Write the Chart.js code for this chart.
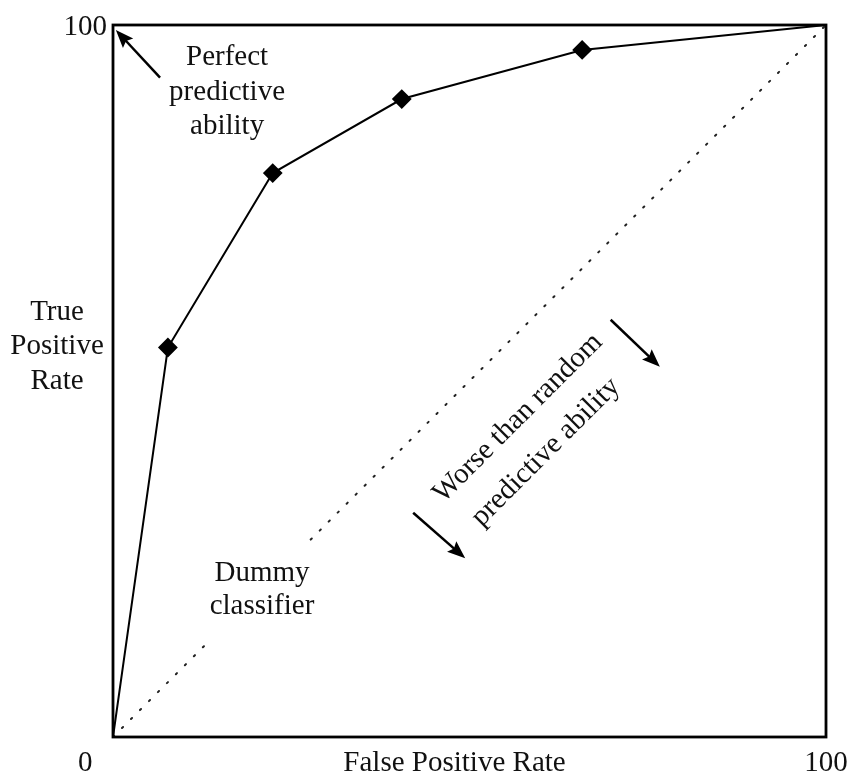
<!DOCTYPE html>
<html>
<head>
<meta charset="utf-8">
<script src="https://cdn.jsdelivr.net/npm/chart.js@4/dist/chart.umd.min.js"></script>
<style>
html,body{margin:0;padding:0;background:#fff;}
#wrap{width:849px;height:776px;}
</style>
</head>
<body>
<div id="wrap"><canvas id="c" width="849" height="776"></canvas></div>
<script>
// Data
const fprValues = [0, 7.7, 22.4, 40.5, 65.8, 100];
const tprValues = [0, 54.7, 79.2, 89.6, 96.5, 100];
const dummyFpr = [0, 100];
const dummyTpr = [0, 100];
const axisTickLabels = ["0", "100"];
const xAxisTitle = "False Positive Rate";
const yAxisTitle = ["True", "Positive", "Rate"];
const perfectLabel = ["Perfect", "predictive", "ability"];
const dummyLabel = ["Dummy", "classifier"];
const worseLabel = ["Worse than random", "predictive ability"];

const FONT = '29px "Liberation Serif", "Times New Roman", serif';

function arrow(ctx, x1, y1, x2, y2) {
  const ang = Math.atan2(y2 - y1, x2 - x1);
  const hl = 18, hw = 7;
  const bx = x2 - hl * Math.cos(ang), by = y2 - hl * Math.sin(ang);
  ctx.beginPath();
  ctx.moveTo(x1, y1);
  ctx.lineTo(bx + 4 * Math.cos(ang), by + 4 * Math.sin(ang));
  ctx.lineWidth = 2.5;
  ctx.strokeStyle = '#000';
  ctx.stroke();
  ctx.beginPath();
  ctx.moveTo(x2, y2);
  ctx.lineTo(bx - hw * Math.sin(ang), by + hw * Math.cos(ang));
  ctx.lineTo(bx + 3 * Math.cos(ang), by + 3 * Math.sin(ang));
  ctx.lineTo(bx + hw * Math.sin(ang), by - hw * Math.cos(ang));
  ctx.closePath();
  ctx.fillStyle = '#000';
  ctx.fill();
}

const annot = {
  id: 'annot',
  afterDatasetsDraw(chart) {
    const ctx = chart.ctx;
    const xs = chart.scales.x, ys = chart.scales.y;
    const X = v => xs.getPixelForValue(v), Y = v => ys.getPixelForValue(v);
    const a = chart.chartArea;
    ctx.save();
    // white box behind dummy label (hides the dotted line there)
    ctx.fillStyle = '#fff';
    ctx.fillRect(X(13.2), Y(26.9), X(28.8) - X(13.2), Y(13.6) - Y(26.9));
    // frame
    ctx.strokeStyle = '#000';
    ctx.lineWidth = 2.8;
    ctx.strokeRect(a.left, a.top, a.right - a.left, a.bottom - a.top);

    ctx.fillStyle = '#111';
    ctx.font = FONT;
    ctx.textAlign = 'center';
    ctx.textBaseline = 'middle';
    // tick labels
    ctx.fillText(axisTickLabels[0], X(-3.9), Y(-3.65));
    ctx.fillText(axisTickLabels[1], X(100), Y(-3.65));
    ctx.fillText(axisTickLabels[1], X(-3.9), Y(99.6));
    // axis titles
    ctx.fillText(xAxisTitle, X(47.9), Y(-3.65));
    const ty = [59.6, 54.8, 50.0];
    yAxisTitle.forEach((t, i) => ctx.fillText(t, X(-7.85), Y(ty[i])));
    // perfect
    const py = [95.5, 90.6, 85.7];
    perfectLabel.forEach((t, i) => ctx.fillText(t, X(16.0), Y(py[i])));
    // dummy
    const dy = [23.0, 18.4];
    dummyLabel.forEach((t, i) => ctx.fillText(t, X(20.9), Y(dy[i])));
    // worse (rotated)
    const wpos = [[56.8, 44.8], [60.7, 40.0]];
    worseLabel.forEach((t, i) => {
      ctx.save();
      ctx.translate(X(wpos[i][0]), Y(wpos[i][1]));
      ctx.rotate(-Math.PI / 4);
      ctx.fillText(t, 0, 0);
      ctx.restore();
    });
    // arrows
    arrow(ctx, X(6.6), Y(92.6), X(0.4), Y(99.3));
    arrow(ctx, X(69.8), Y(58.6), X(76.7), Y(52.0));
    arrow(ctx, X(42.1), Y(31.5), X(49.4), Y(25.1));
    ctx.restore();
  }
};

new Chart(document.getElementById('c'), {
  type: 'scatter',
  data: {
    datasets: [
      {
        label: 'Dummy',
        data: dummyFpr.map((x, i) => ({x, y: dummyTpr[i]})),
        showLine: true,
        borderColor: '#222',
        borderWidth: 2,
        borderDash: [1.5, 11.2],
        borderCapStyle: 'round',
        pointRadius: 0
      },
      {
        label: 'ROC',
        data: fprValues.map((x, i) => ({x, y: tprValues[i]})),
        showLine: true,
        borderColor: '#000',
        borderWidth: 2,
        pointStyle: 'rectRot',
        pointRadius: fprValues.map((v, i) => (i === 0 || i === fprValues.length - 1) ? 0 : 8.5),
        pointBackgroundColor: '#000',
        pointBorderColor: '#000'
      }
    ]
  },
  options: {
    responsive: false,
    animation: false,
    devicePixelRatio: 1,
    layout: { padding: { left: 113, right: 23, top: 25, bottom: 39 } },
    plugins: { legend: { display: false }, tooltip: { enabled: false } },
    scales: {
      x: { type: 'linear', min: 0, max: 100, display: false },
      y: { type: 'linear', min: 0, max: 100, display: false }
    }
  },
  plugins: [annot]
});
</script>
</body>
</html>
